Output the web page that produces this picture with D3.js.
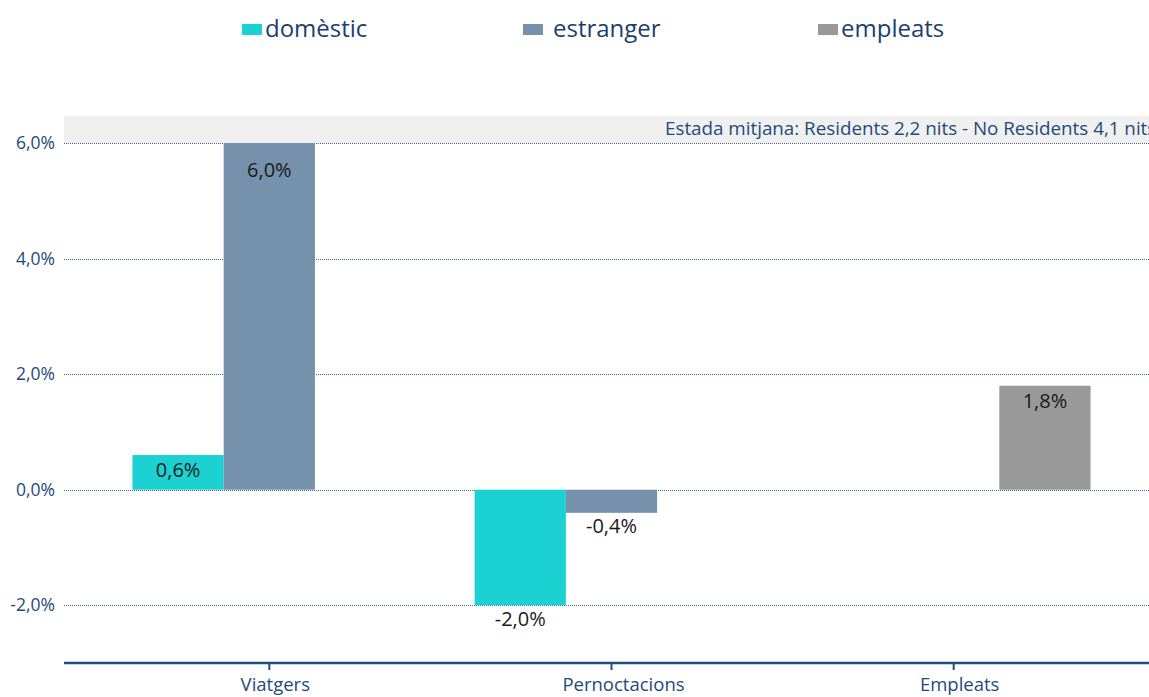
<!DOCTYPE html>
<html><head><meta charset="utf-8">
<script src="https://cdn.jsdelivr.net/npm/d3@7"></script>
<style>body{margin:0;background:#fff;} svg{display:block;font-family:"Open Sans",sans-serif;}</style>
</head><body>
<svg id="c" width="1149" height="697"></svg>
<script>
const categories = ["Viatgers", "Pernoctacions", "Empleats"];
const seriesNames = ["domèstic", "estranger", "empleats"];
const domestic = [0.6, -2.0, null];
const estranger = [6.0, -0.4, null];
const empleats = [null, null, 1.8];
const yTicks = [-2, 0, 2, 4, 6];
const annotation = "Estada mitjana: Residents 2,2 nits - No Residents 4,1 nits";
const colors = {"domèstic":"#1bd1d1","estranger":"#7591ab","empleats":"#999999"};
const seriesValues = {"domèstic":domestic,"estranger":estranger,"empleats":empleats};

(function(){
const svg = d3.select("#c");
const pL = 64, pR = 1159, pT = 116, pB = 663;
const x = d3.scaleBand().domain(categories).range([pL, pR]).padding(0.2);
const xs = d3.scaleBand().domain(seriesNames).range([0, x.bandwidth()]);
const y = d3.scaleLinear().domain([-3, 6.47]).range([pB, pT]);
const fmt = v => d3.format(".1f")(v).replace(".", ",").replace("\u2212", "-") + "%";
const textCol = "#1f4a7a";

// annotation band
svg.append("rect").attr("x", pL).attr("y", y(6.47)).attr("width", pR - pL + 20)
  .attr("height", y(6) - y(6.47)).attr("fill", "#f0f0f0");
svg.append("text").attr("x", 665).attr("y", y(6) - 8).attr("text-anchor", "start")
  .attr("font-size", 18.8).attr("fill", textCol).text(annotation);

// grid
const g = svg.append("g");
g.selectAll("line.grid").data(yTicks).join("line")
  .attr("x1", pL).attr("x2", 1149).attr("y1", d => Math.round(y(d)) + 0.5).attr("y2", d => Math.round(y(d)) + 0.5)
  .attr("stroke", "#4a6b96").attr("stroke-width", 1).attr("stroke-dasharray", "1,1");
g.selectAll("text.yt").data(yTicks).join("text")
  .attr("x", 55).attr("y", d => y(d) + 6).attr("text-anchor", "end")
  .attr("font-size", 17.5).attr("fill", textCol).text(d => fmt(d));

// bars
const bars = [];
seriesNames.forEach(s => seriesValues[s].forEach((v, i) => { if (v !== null) bars.push({s, c: categories[i], v}); }));
svg.selectAll("rect.bar").data(bars).join("rect")
  .attr("x", d => x(d.c) + xs(d.s)).attr("width", xs.bandwidth())
  .attr("y", d => y(Math.max(0, d.v))).attr("height", d => Math.abs(y(d.v) - y(0)))
  .attr("fill", d => colors[d.s]);
const yMaxTick = d3.max(yTicks);
svg.selectAll("text.val").data(bars).join("text")
  .attr("x", d => x(d.c) + xs(d.s) + xs.bandwidth() / 2)
  .attr("y", d => d.v >= 0 ? Math.max(y(d.v) + 15, y(yMaxTick) + 27) + 7 : y(d.v) + 13.5 + 7)
  .attr("text-anchor", "middle").attr("font-size", 20).attr("fill", "#1a1a1a")
  .text(d => fmt(d.v));

// x axis
svg.append("line").attr("x1", pL).attr("x2", 1149).attr("y1", y(-3)).attr("y2", y(-3))
  .attr("stroke", "#1f4e80").attr("stroke-width", 2.5);
svg.selectAll("line.xt").data(categories).join("line")
  .attr("x1", d => x(d) + x.bandwidth() / 2).attr("x2", d => x(d) + x.bandwidth() / 2)
  .attr("y1", y(-3)).attr("y2", y(-3) + 7).attr("stroke", "#1f4e80").attr("stroke-width", 2);
svg.selectAll("text.xl").data(categories).join("text")
  .attr("x", (d, i) => x(d) + x.bandwidth() / 2 + (i === 1 ? 12 : 6)).attr("y", y(-3) + 28)
  .attr("text-anchor", "middle").attr("font-size", 18.5).attr("fill", textCol).text(d => d);

// legend
const legendX = [242, 523, 818];
const legendTX = [265, 553, 841];
const lg = svg.selectAll("g.leg").data(seriesNames).join("g");
lg.append("rect").attr("x", (d, i) => legendX[i]).attr("y", 24).attr("width", 20).attr("height", 11)
  .attr("fill", d => colors[d]);
lg.append("text").attr("x", (d, i) => legendTX[i]).attr("y", 37).attr("font-size", 24)
  .attr("fill", "#1a3f6e").text(d => d);
})();
</script>
</body></html>
